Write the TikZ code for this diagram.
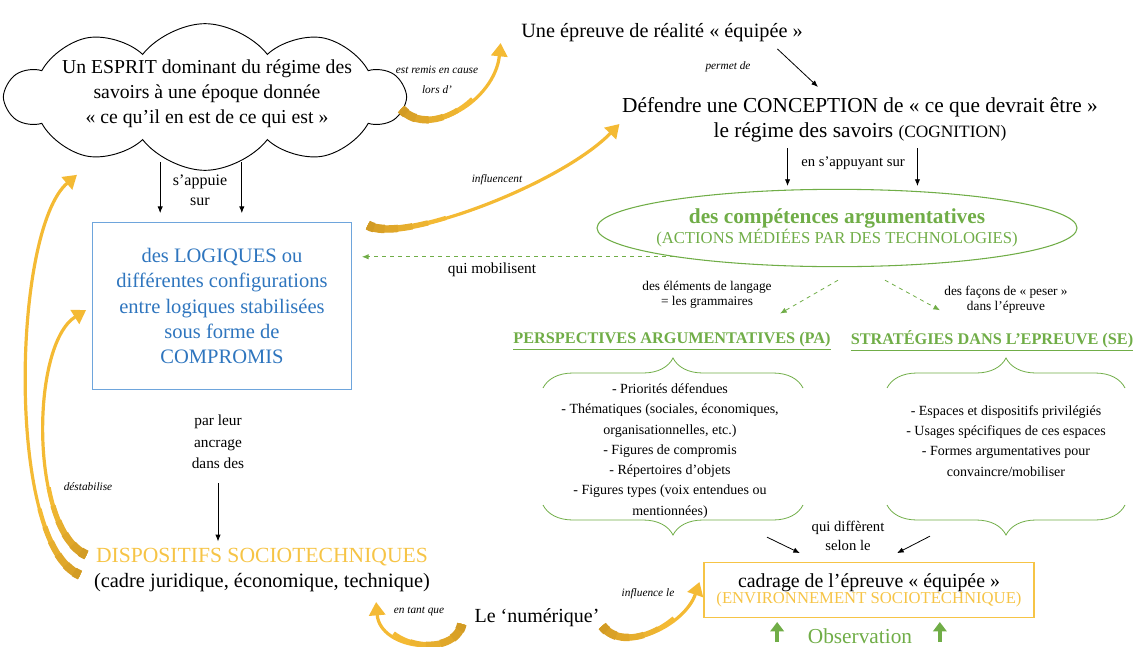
\documentclass[tikz,border=0pt]{standalone}
\usepackage{fontspec}
\setmainfont{Liberation Serif}
\usetikzlibrary{arrows.meta,calc,shapes.symbols,shapes.geometric,decorations.pathreplacing}

\definecolor{gold}{RGB}{244,186,52}
\definecolor{golddark}{RGB}{210,155,36}
\definecolor{amber}{RGB}{246,196,70}
\definecolor{leaf}{RGB}{112,173,71}
\definecolor{sky}{RGB}{46,117,190}
\definecolor{skyline}{RGB}{110,165,220}

\tikzset{
  goldarrow/.style={draw=gold, line width=2.4pt, -{Triangle[length=10pt,width=12pt]},
    postaction={draw=gold, line width=3.2pt, dash pattern=on 60pt off 2000pt, -},
    postaction={draw=golddark!20!gold, line width=4pt, dash pattern=on 46pt off 2000pt, -},
    postaction={draw=golddark!40!gold, line width=4.8pt, dash pattern=on 34pt off 2000pt, -},
    postaction={draw=golddark!60!gold, line width=5.6pt, dash pattern=on 23pt off 2000pt, -},
    postaction={draw=golddark!80!gold, line width=6.4pt, dash pattern=on 13pt off 2000pt, -},
    postaction={draw=golddark, line width=7.2pt, dash pattern=on 5pt off 2000pt, -}},
  blackarrow/.style={draw=black, line width=0.6pt, -{Latex[length=5pt,width=4pt]}},
  greendash/.style={draw=leaf, dashed, line width=0.6pt, -{Latex[length=5pt,width=4pt]}},
  greenup/.style={draw=leaf, line width=2.5pt, -{Triangle[length=7pt,width=10pt]}},
  smalltext/.style={font=\fontsize{11.5}{16}\selectfont, align=center},
  tinytext/.style={font=\fontsize{10}{11.5}\selectfont, align=center},
  ittext/.style={font=\fontsize{8.5}{15}\selectfont\itshape, align=center},
  bigtext/.style={font=\fontsize{16}{18.8}\selectfont, align=center},
  listtext/.style={font=\fontsize{10.5}{15.2}\selectfont, align=center},
  greenbrace/.style={draw=leaf, line width=0.6pt, decorate, decoration={brace, amplitude=22.5pt}},
}

\begin{document}
\begin{tikzpicture}[x=0.75pt, y=-0.75pt]
\useasboundingbox (0,0) rectangle (1142,646);

%%% cloud and the esprit
\node[cloud, draw, line width=0.7pt, cloud puffs=10, cloud puff arc=105, cloud ignores aspect,
      minimum width=298pt, minimum height=110pt] (nuage) at (205,97) {};
\node[bigtext, font=\fontsize{14.8}{18.8}\selectfont] (esprit) at (207,94)
  {Un ESPRIT dominant du régime des\\savoirs à une époque donnée\\« ce qu’il en est de ce qui est »};
\node[ittext] (remis) at (437,80) {est remis en cause\\lors d’};

%%% top right
\node[font=\fontsize{15.2}{18}\selectfont] (epreuve) at (662,33) {Une épreuve de réalité « équipée »};
\node[ittext] (permet) at (728,67) {permet de};
\node[bigtext] (conception) at (860,120)
  {Défendre une CONCEPTION de « ce que devrait être »\\le régime des savoirs {\fontsize{13}{14}\selectfont(COGNITION)}};
\node[tinytext, font=\fontsize{11}{13}\selectfont] (appuyant) at (853,163) {en s’appuyant sur};

\node[ellipse, draw=leaf, line width=0.8pt, minimum width=360pt, minimum height=58pt,
      text=leaf, align=center, inner xsep=-10pt, inner ysep=-4pt] (competences) at (837,228)
  {{\fontsize{16}{18}\selectfont\bfseries des compétences argumentatives}\\
   {\fontsize{12.5}{14}\selectfont(ACTIONS MÉDIÉES PAR DES TECHNOLOGIES)}};

%%% blue box
\node[draw=skyline, line width=0.8pt, minimum width=194pt, minimum height=125pt, text=sky,
      align=center, font=\fontsize{15.4}{19.1}\selectfont] (logiques) at (222,306)
  {des LOGIQUES ou\\différentes configurations\\entre logiques stabilisées\\sous forme de\\COMPROMIS};
\node[smalltext, font=\fontsize{12}{15}\selectfont] (appuie) at (200,190) {s’appuie\\sur};
\node[ittext] (influencent) at (497,180) {influencent};
\node[smalltext] (mobilisent) at (492,270) {qui mobilisent};

%%% perspectives / strategies
\node[tinytext] (langage) at (707,295) {des éléments de langage\\= les grammaires};
\node[tinytext] (peser) at (1006,300) {des façons de « peser »\\dans l’épreuve};
\node[font=\fontsize{12.2}{13}\selectfont\bfseries, text=leaf] (pa) at (672,341)
  {\underline{PERSPECTIVES ARGUMENTATIVES (PA)}};
\node[font=\fontsize{12.2}{13}\selectfont\bfseries, text=leaf] (se) at (992,341)
  {\underline{STRATÉGIES DANS L’EPREUVE (SE)}};

\draw[greenbrace] (543,388) -- (803,388);
\draw[greenbrace] (803,505) -- (543,505);
\draw[greenbrace] (887,388) -- (1125,388);
\draw[greenbrace] (1125,505) -- (887,505);

\node[listtext] (palist) at (670,451)
  {- Priorités défendues\\- Thématiques (sociales, économiques,\\organisationnelles, etc.)\\- Figures de compromis\\- Répertoires d’objets\\- Figures types (voix entendues ou\\mentionnées)};
\node[listtext] (selist) at (1006,441)
  {- Espaces et dispositifs privilégiés\\- Usages spécifiques de ces espaces\\- Formes argumentatives pour\\convaincre/mobiliser};

%%% bottom
\node[smalltext, font=\fontsize{11}{14}\selectfont] (different) at (848,536) {qui diffèrent\\selon le};
\node[draw=amber, line width=0.8pt, minimum width=247.5pt, minimum height=41pt, align=center, inner sep=0pt] (cadrage) at (869,590)
  {{\fontsize{14.9}{16}\selectfont cadrage de l’épreuve « équipée »}\\
   {\color{amber}\fontsize{12.5}{14}\selectfont(ENVIRONNEMENT SOCIOTECHNIQUE)}};
\node[text=leaf, font=\fontsize{16}{17}\selectfont] (observation) at (860,636) {Observation};
\node[font=\fontsize{15}{18}\selectfont] (numerique) at (537,618) {Le ‘numérique’};
\node[ittext] (influence) at (648,594) {influence le};
\node[ittext] (tantque) at (419,612) {en tant que};

\node[smalltext] (ancrage) at (218,442) {par leur\\ancrage\\dans des};
\node[ittext] (destabilise) at (88,487) {déstabilise};
\node[text=amber, font=\fontsize{16.2}{18}\selectfont] (dispositifs) at (262,557) {DISPOSITIFS SOCIOTECHNIQUES};
\node[font=\fontsize{15.3}{18}\selectfont] (cadre) at (262,583) {(cadre juridique, économique, technique)};

%%% connectors
\draw[blackarrow] ($(epreuve.south east)+(-30,2)$) -- ($(conception.north)+(-42,-6)$);
\draw[blackarrow] ($(appuyant.west)+(-9,-15)$) -- ($(appuyant.west)+(-9,23)$);
\draw[blackarrow] ($(appuyant.east)+(8,-15)$) -- ($(appuyant.east)+(8,23)$);
\draw[blackarrow] ($(appuie.north west)+(-8,-8)$) -- ($(appuie.south west)+(-8,3)$);
\draw[blackarrow] ($(appuie.north east)+(10,-8)$) -- ($(appuie.south east)+(10,3)$);
\draw[greendash] (competences.190) -- ($(competences.190 -| logiques.east)+(10,0)$);
\draw[greendash] ($(competences.south)+(1,13)$) -- ($(pa.north)+(108,-14)$);
\draw[greendash] ($(competences.south)+(48,13)$) -- ($(se.north)+(-52,-16)$);
\draw[blackarrow] ($(cadrage.north)+(-102,-25)$) -- ($(cadrage.north)+(-69,-9)$);
\draw[blackarrow] ($(cadrage.north)+(61,-26)$) -- ($(cadrage.north)+(28,-9)$);
\draw[blackarrow] ($(ancrage.south)+(0,10)$) -- ($(ancrage.south |- dispositifs.north)+(0,-2)$);
\draw[greenup] ($(observation.west)+(-26,6)$) -- ++(0,-20);
\draw[greenup] ($(observation.east)+(23,6)$) -- ++(0,-20);

%%% golden arrows
\draw[goldarrow] ($(nuage.east)+(-6,12)$) .. controls (430,140) and (495,100) .. ($(epreuve.west)+(-16,10)$);
\draw[goldarrow] ($(logiques.north east)+(16,3)$) .. controls (400,245) and (560,185) .. ($(conception.west)+(2,4)$);
\draw[goldarrow] (80,575) .. controls (6,545) and (12,230) .. ($(nuage.south)+(-128,4)$);
\draw[goldarrow] ($(dispositifs.west)+(-5,-2)$) .. controls (30,530) and (30,345) .. ($(logiques.west)+(-6,4)$);
\draw[goldarrow] ($(numerique.east)+(-2,8)$) .. controls (625,655) and (685,625) .. ($(cadrage.west)+(-4,-8)$);
\draw[goldarrow] ($(numerique.west)+(-8,6)$) .. controls (455,658) and (380,650) .. ($(tantque.west)+(-13,-10)$);
\end{tikzpicture}
\end{document}
